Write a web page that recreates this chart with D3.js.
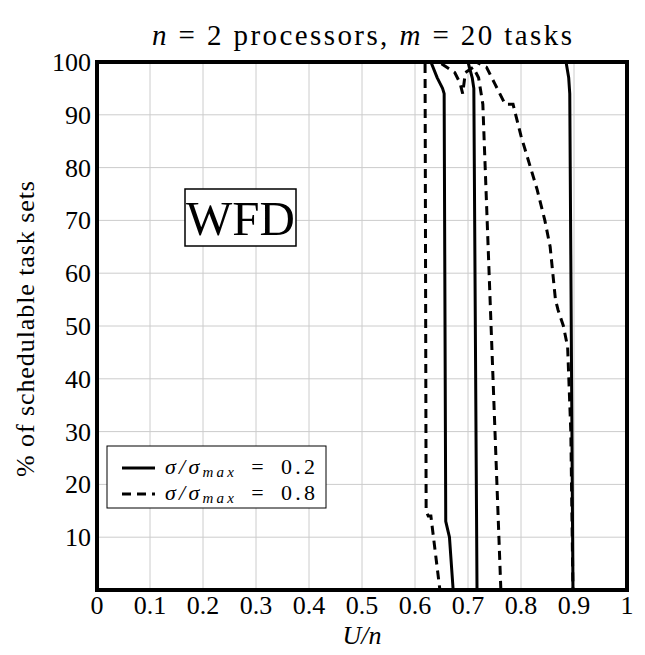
<!DOCTYPE html>
<html>
<head>
<meta charset="utf-8">
<script src="https://cdn.jsdelivr.net/npm/d3@7"></script>
<style>
  body { margin: 0; background: #fff; }
</style>
</head>
<body>
<script>
var serif = "Liberation Serif, serif";

// tick values
var xTicks = [0, 0.1, 0.2, 0.3, 0.4, 0.5, 0.6, 0.7, 0.8, 0.9, 1];
var yTicks = [10, 20, 30, 40, 50, 60, 70, 80, 90, 100];

// sigma/sigma_max = 0.2 (solid)
var solidA = [[0, 100], [0.63, 100], [0.642, 97], [0.652, 95], [0.655, 94], [0.658, 13], [0.665, 10], [0.672, 0], [1, 0]];
var solidB = [[0, 100], [0.70, 100], [0.708, 97], [0.711, 95], [0.717, 0], [1, 0]];
var solidC = [[0, 100], [0.885, 100], [0.89, 97], [0.892, 94], [0.898, 0], [1, 0]];
// sigma/sigma_max = 0.8 (dashed)
var dashA = [[0, 100], [0.619, 100], [0.621, 15], [0.625, 14], [0.63, 14], [0.647, 0], [1, 0]];
var dashB = [[0, 100], [0.645, 100], [0.66, 99], [0.675, 98], [0.685, 96], [0.69, 94], [0.695, 98], [0.71, 99], [0.72, 97], [0.728, 92], [0.762, 0], [1, 0]];
var dashC = [[0, 100], [0.715, 100], [0.735, 99], [0.75, 96], [0.77, 92], [0.785, 92], [0.80, 86], [0.815, 81], [0.83, 76], [0.845, 70], [0.855, 65], [0.86, 60], [0.865, 55], [0.87, 53], [0.88, 50], [0.888, 46], [0.894, 30], [0.898, 0], [1, 0]];

var width = 645, height = 655;
var margin = {top: 62, right: 18, bottom: 65, left: 97};

var svg = d3.select("body").append("svg")
  .attr("width", width)
  .attr("height", height)
  .attr("font-family", serif);

var x = d3.scaleLinear().domain([0, 1]).range([margin.left, width - margin.right]);
var y = d3.scaleLinear().domain([0, 100]).range([height - margin.bottom, margin.top]);

// grid
svg.append("g").selectAll("line").data(xTicks).enter().append("line")
  .attr("x1", d => x(d)).attr("x2", d => x(d))
  .attr("y1", y(0)).attr("y2", y(100))
  .attr("stroke", "#cccccc").attr("stroke-width", 1);
svg.append("g").selectAll("line").data(yTicks).enter().append("line")
  .attr("x1", x(0)).attr("x2", x(1))
  .attr("y1", d => y(d)).attr("y2", d => y(d))
  .attr("stroke", "#cccccc").attr("stroke-width", 1);

// curves
var line = d3.line().x(d => x(d[0])).y(d => y(d[1]));
[solidA, solidB, solidC].forEach(function(s) {
  svg.append("path").datum(s).attr("d", line)
    .attr("fill", "none").attr("stroke", "#000").attr("stroke-width", 3)
    .attr("stroke-linejoin", "round");
});
[dashA, dashB, dashC].forEach(function(s) {
  svg.append("path").datum(s).attr("d", line)
    .attr("fill", "none").attr("stroke", "#000").attr("stroke-width", 3)
    .attr("stroke-dasharray", "9,6");
});

// frame
svg.append("rect")
  .attr("x", x(0)).attr("y", y(100))
  .attr("width", x(1) - x(0)).attr("height", y(0) - y(100))
  .attr("fill", "none").attr("stroke", "#000").attr("stroke-width", 4);

// tick labels
svg.append("g").selectAll("text").data(xTicks).enter().append("text")
  .attr("x", d => x(d)).attr("y", y(0) + 24)
  .attr("text-anchor", "middle").attr("font-size", 26)
  .text(d => d3.format("~g")(d));
svg.append("g").selectAll("text").data(yTicks).enter().append("text")
  .attr("x", x(0) - 6).attr("y", d => y(d) + 9)
  .attr("text-anchor", "end").attr("font-size", 26)
  .text(d => d);

// axis labels
svg.append("text")
  .attr("x", (x(0) + x(1)) / 2).attr("y", 644)
  .attr("text-anchor", "middle").attr("font-size", 26).attr("font-style", "italic")
  .text("U/n");
svg.append("text")
  .attr("transform", "translate(34," + ((y(0) + y(100)) / 2 + 3) + ") rotate(-90)")
  .attr("text-anchor", "middle").attr("font-size", 26)
  .attr("textLength", 296).attr("lengthAdjust", "spacing")
  .text("% of schedulable task sets");

// title
var title = svg.append("text")
  .attr("x", (x(0) + x(1)) / 2).attr("y", 45)
  .attr("text-anchor", "middle").attr("font-size", 29)
  .attr("textLength", 420).attr("lengthAdjust", "spacing");
title.append("tspan").attr("font-style", "italic").text("n");
title.append("tspan").text(" = 2 processors, ");
title.append("tspan").attr("font-style", "italic").text("m");
title.append("tspan").text(" = 20 tasks");

// WFD box
svg.append("rect")
  .attr("x", 185).attr("y", 189).attr("width", 111).attr("height", 57)
  .attr("fill", "#fff").attr("stroke", "#000").attr("stroke-width", 1.5);
svg.append("text")
  .attr("x", 240.5).attr("y", 235)
  .attr("text-anchor", "middle").attr("font-size", 49)
  .text("WFD");

// legend
var legend = svg.append("g");
legend.append("rect")
  .attr("x", 107).attr("y", 446).attr("width", 219).attr("height", 62)
  .attr("fill", "#fff").attr("stroke", "#000").attr("stroke-width", 1);
var entries = [{val: "0.2", dash: null}, {val: "0.8", dash: "9,6"}];
entries.forEach(function(e, i) {
  var yy = 468 + i * 26;
  legend.append("line")
    .attr("x1", 122).attr("x2", 155).attr("y1", yy).attr("y2", yy)
    .attr("stroke", "#000").attr("stroke-width", 3)
    .attr("stroke-dasharray", e.dash);
  var t = legend.append("text")
    .attr("x", 165).attr("y", yy + 6).attr("font-size", 22)
    .attr("textLength", 150).attr("lengthAdjust", "spacing");
  t.append("tspan").attr("font-style", "italic").text("σ/σ");
  t.append("tspan").attr("font-style", "italic").attr("font-size", 15).attr("dy", 3).text("max");
  t.append("tspan").attr("dy", -3).text("\u2002=\u2002" + e.val);
});
</script>
</body>
</html>
